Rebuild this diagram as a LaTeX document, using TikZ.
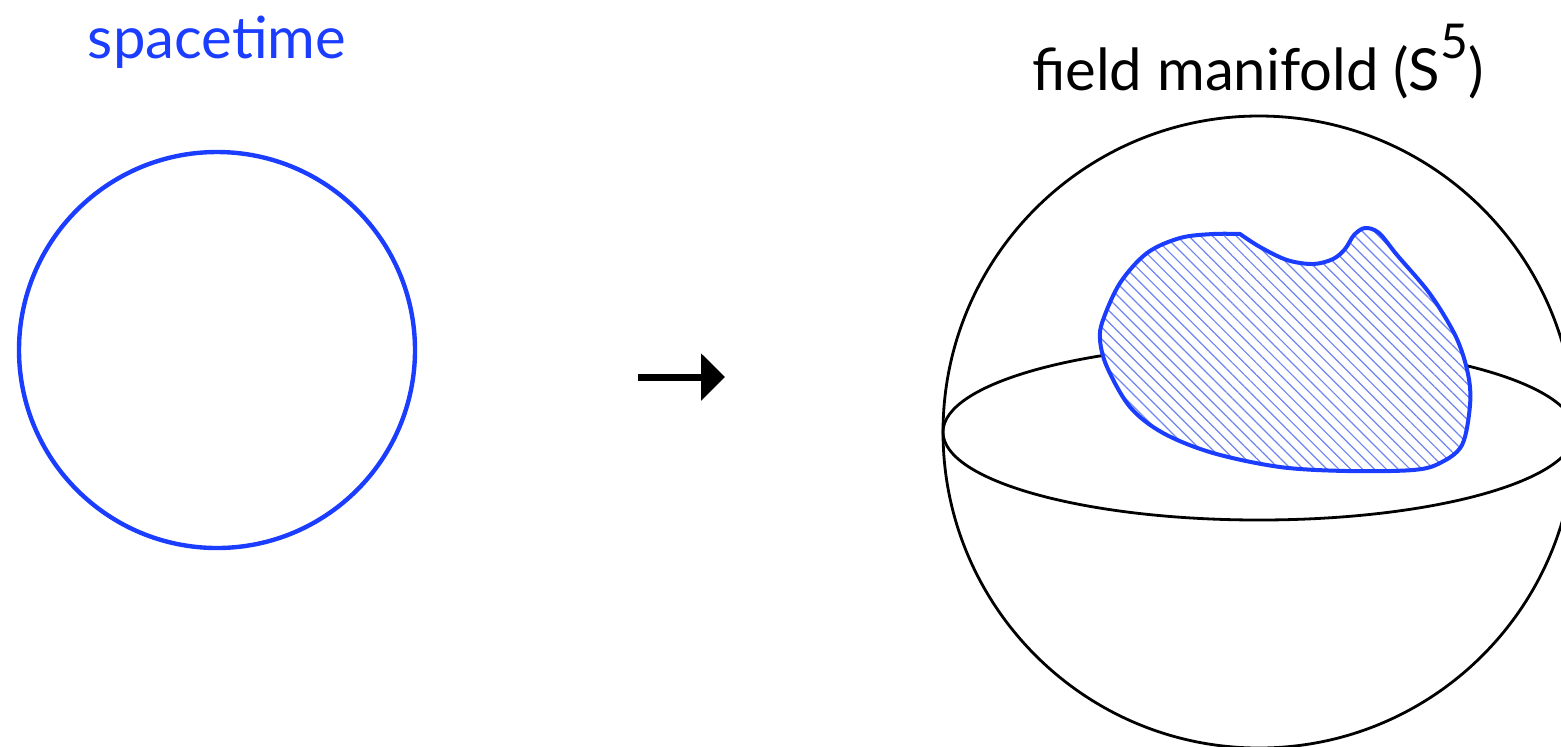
\documentclass[tikz,border=0pt]{standalone}
\usepackage{fontspec}
\setmainfont{Lato}
\usepackage{tikz}
\usetikzlibrary{arrows.meta,patterns.meta}
\definecolor{spaceblue}{HTML}{1A3DFF}
\definecolor{hatchblue}{HTML}{6F84F0}
\tikzset{
  label/.style={font=\fontsize{29}{33}\selectfont,inner sep=0pt},
  spacecircle/.style={draw=spaceblue,line width=2.2pt,circle,minimum size=198pt,inner sep=0pt},
  sphere/.style={draw=black,line width=1.4pt},
  blob/.style={draw=spaceblue,line width=2pt,line join=round},
  maparr/.style={-{Triangle[length=12pt,width=23pt]},line width=3.5pt},
}
\begin{document}
\begin{tikzpicture}[x=0.5pt,y=-0.5pt]
  \useasboundingbox (0,0) rectangle (1561,746);
  \clip (0,0) rectangle (1561,746);
  % spacetime
  \node[label,text=spaceblue] (domainlabel) at (217,42) {spacetime};
  \node[spacecircle] (domain) at (217,350) {};
  % map arrow
  \coordinate (mapfrom) at (638,377);
  \coordinate (mapto) at (725,377);
  \draw[maparr] (mapfrom) -- (mapto);
  % target sphere
  \node[label,anchor=base] (targetlabel) at (1258,90)
    {field manifold (S\raisebox{0.55em}{\fontsize{24}{26}\selectfont 5})};
  \coordinate (centre) at (1259,432);
  \draw[sphere] (centre) circle[radius=158pt];
  \draw[sphere] (centre) ellipse[x radius=158pt,y radius=44pt];
  % image of spacetime
  \def\blobpath{plot[smooth,tension=0.55] coordinates {
      (1240,234) (1260,247) (1287,260) (1313,264) (1333,259) (1345,249)
      (1354,235) (1365,228) (1379,233) (1397,255) (1430,294) (1456,337)
      (1468,374) (1470,405) (1462,445) (1440,463) (1413,470) (1347,471)
      (1280,467) (1213,453) (1163,433) (1130,407) (1107,367) (1100,340)
      (1103,320) (1120,283) (1147,253) (1180,238) (1213,234) (1240,234)} -- cycle}
  \fill[white] \blobpath;
  \fill[pattern={Lines[angle=-45,distance=4.2pt,line width=0.6pt]},pattern color=hatchblue] \blobpath;
  \draw[blob] \blobpath;
\end{tikzpicture}
\end{document}
